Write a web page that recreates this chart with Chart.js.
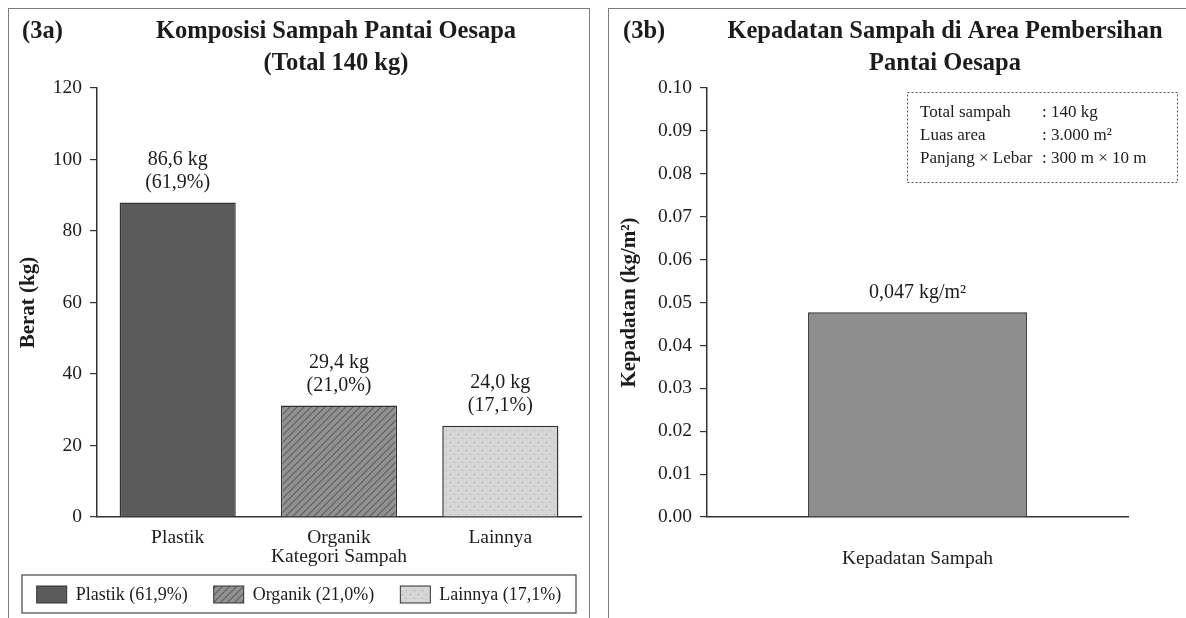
<!DOCTYPE html>
<html>
<head>
<meta charset="utf-8">
<script src="https://cdn.jsdelivr.net/npm/chart.js@4.4.1/dist/chart.umd.min.js"></script>
<style>
  body { margin: 0; background: #fff; width: 1186px; height: 618px; overflow: hidden; position: relative; }
  .panel { position: absolute; top: 8px; height: 640px; border: 1.6px solid #7c7c7c; box-sizing: border-box; }
  #panelA { left: 8px; width: 582px; }
  #panelB { left: 608px; width: 600px; }
  canvas { position: absolute; top: 9px; }
  #chartA { left: 9px; width: 579px; height: 609px; }
  #chartB { left: 610px; width: 576px; height: 609px; }
</style>
</head>
<body>
<div class="panel" id="panelA"></div>
<div class="panel" id="panelB"></div>
<canvas id="chartA" width="579" height="609"></canvas>
<canvas id="chartB" width="576" height="609"></canvas>
<script>
const FONT = '"Liberation Serif", "Times New Roman", serif';
const INK = '#1c1c1c';

// (3a) komposisi sampah
let categories = ['Plastik', 'Organik', 'Lainnya'];
let beratKg = [88.0, 31.2, 25.5];
let beratLabels = ['86,6 kg', '29,4 kg', '24,0 kg'];
let persenLabels = ['(61,9%)', '(21,0%)', '(17,1%)'];
let yTicksA = [0, 20, 40, 60, 80, 100, 120];

// (3b) kepadatan sampah
let densityCategory = ['Kepadatan Sampah'];
let densityValue = [0.0477];
let densityLabels = ['0,047 kg/m²'];
let yTicksB = [0.00, 0.01, 0.02, 0.03, 0.04, 0.05, 0.06, 0.07, 0.08, 0.09, 0.10];
let infoLabels = ['Total sampah', 'Luas area', 'Panjang × Lebar'];
let infoValues = [': 140 kg', ': 3.000 m²', ': 300 m × 10 m'];

// fills: solid, hatched, dotted
function hatchFill() {
  const c = document.createElement('canvas');
  c.width = 7; c.height = 7;
  const g = c.getContext('2d');
  g.fillStyle = '#929292'; g.fillRect(0, 0, 7, 7);
  g.strokeStyle = '#5f5f5f'; g.lineWidth = 1.2;
  g.beginPath();
  g.moveTo(0, 7); g.lineTo(7, 0);
  g.moveTo(-2, 2); g.lineTo(2, -2);
  g.moveTo(5, 9); g.lineTo(9, 5);
  g.stroke();
  return g.createPattern(c, 'repeat');
}
function dotFill() {
  const c = document.createElement('canvas');
  c.width = 8; c.height = 8;
  const g = c.getContext('2d');
  g.fillStyle = '#d5d5d5'; g.fillRect(0, 0, 8, 8);
  g.fillStyle = '#a6a6a6';
  g.fillRect(1, 1, 1, 1); g.fillRect(5, 5, 1, 1);
  return g.createPattern(c, 'repeat');
}
let fillsA = ['#5b5b5b', hatchFill(), dotFill()];

function barText(lines) {
  return {
    id: 'barText',
    afterDatasetsDraw(chart) {
      const ctx = chart.ctx;
      ctx.save();
      ctx.font = '20px ' + FONT;
      ctx.fillStyle = INK;
      ctx.textAlign = 'center';
      ctx.textBaseline = 'middle';
      chart.getDatasetMeta(0).data.forEach((bar, i) => {
        const l = lines[i];
        l.forEach((t, k) => ctx.fillText(t, bar.x, bar.y - 20 - (l.length - 1 - k) * 23));
      });
      ctx.restore();
    }
  };
}

function drawTitle(ctx, tag, lines, cx) {
  ctx.font = 'bold 24.5px ' + FONT;
  ctx.fillStyle = INK;
  ctx.textBaseline = 'middle';
  ctx.textAlign = 'left';
  ctx.fillText(tag, 13, 23);
  ctx.textAlign = 'center';
  lines.forEach((t, i) => ctx.fillText(t, cx, 23 + i * 32));
}

const decorA = {
  id: 'decorA',
  afterDraw(chart) {
    const ctx = chart.ctx;
    ctx.save();
    drawTitle(ctx, '(3a)', ['Komposisi Sampah Pantai Oesapa', '(Total 140 kg)'], 327);
    // legend
    const x0 = 13, y0 = 566, w = 554, h = 38;
    ctx.strokeStyle = '#444'; ctx.lineWidth = 1.2;
    ctx.strokeRect(x0, y0, w, h);
    ctx.font = '18px ' + FONT;
    const items = categories.map((c, i) => c + ' ' + persenLabels[i]);
    const sw = 30, gap = 9, between = 26;
    const total = items.reduce((s, t) => s + sw + gap + ctx.measureText(t).width, 0) + between * (items.length - 1);
    let x = x0 + (w - total) / 2;
    const cy = y0 + h / 2;
    ctx.textAlign = 'left'; ctx.textBaseline = 'middle';
    items.forEach((t, i) => {
      ctx.fillStyle = fillsA[i];
      ctx.fillRect(x, cy - 8, sw, 17);
      ctx.strokeStyle = '#333'; ctx.lineWidth = 1;
      ctx.strokeRect(x, cy - 8, sw, 17);
      ctx.fillStyle = INK;
      ctx.fillText(t, x + sw + gap, cy + 1);
      x += sw + gap + ctx.measureText(t).width + between;
    });
    ctx.restore();
  }
};

const decorB = {
  id: 'decorB',
  afterDraw(chart) {
    const ctx = chart.ctx;
    ctx.save();
    drawTitle(ctx, '(3b)', ['Kepadatan Sampah di Area Pembersihan', 'Pantai Oesapa'], 335);
    // info box
    ctx.strokeStyle = '#555'; ctx.lineWidth = 1;
    ctx.setLineDash([2, 2]);
    ctx.strokeRect(297.5, 83.5, 270, 90);
    ctx.setLineDash([]);
    ctx.font = '17px ' + FONT;
    ctx.fillStyle = INK;
    ctx.textAlign = 'left'; ctx.textBaseline = 'middle';
    infoLabels.forEach((t, i) => {
      ctx.fillText(t, 310, 104 + i * 23);
      ctx.fillText(infoValues[i], 432, 104 + i * 23);
    });
    ctx.restore();
  }
};

function yAxis(ticks, fmt, title, width) {
  return {
    min: ticks[0], max: ticks[ticks.length - 1],
    afterBuildTicks: s => { s.ticks = ticks.map(v => ({ value: v })); },
    grid: { drawOnChartArea: false, tickLength: 7, color: '#333', lineWidth: 1.2 },
    border: { color: '#333', width: 1.5 },
    ticks: { font: { family: FONT, size: 19.5 }, color: INK, padding: 8, callback: fmt },
    title: { display: true, text: title, color: INK, font: { family: FONT, size: 21, weight: 'bold' }, padding: { top: 7, bottom: 0 } },
    afterFit: s => { s.width = width; }
  };
}

new Chart(document.getElementById('chartA'), {
  type: 'bar',
  data: {
    labels: categories,
    datasets: [{ data: beratKg, backgroundColor: fillsA, borderColor: '#333', borderWidth: 1.5, categoryPercentage: 1, barPercentage: 0.72 }]
  },
  options: {
    responsive: false, animation: false,
    layout: { padding: { left: 0, top: 79, right: 7, bottom: 50 } },
    plugins: { legend: { display: false }, tooltip: { enabled: false } },
    scales: {
      x: {
        grid: { display: false, drawTicks: false },
        border: { color: '#333', width: 1.5 },
        ticks: { font: { family: FONT, size: 19.5 }, color: INK, padding: 9 },
        title: { display: true, text: 'Kategori Sampah', color: INK, font: { family: FONT, size: 19.5 }, padding: { top: 0, bottom: -1 } },
        afterFit: s => { s.height = 51; }
      },
      y: yAxis(yTicksA, v => String(v), 'Berat (kg)', 88)
    }
  },
  plugins: [barText(categories.map((_, i) => [beratLabels[i], persenLabels[i]])), decorA]
});

new Chart(document.getElementById('chartB'), {
  type: 'bar',
  data: {
    labels: densityCategory,
    datasets: [{ data: densityValue, backgroundColor: '#8e8e8e', borderColor: '#333', borderWidth: 1.5, categoryPercentage: 1, barPercentage: 0.52 }]
  },
  options: {
    responsive: false, animation: false,
    layout: { padding: { left: 0, top: 79, right: 58, bottom: 0 } },
    plugins: { legend: { display: false }, tooltip: { enabled: false } },
    scales: {
      x: {
        grid: { display: false, drawTicks: false },
        border: { color: '#333', width: 1.5 },
        ticks: { font: { family: FONT, size: 19.5 }, color: INK, padding: 30 },
        afterFit: s => { s.height = 101; }
      },
      y: yAxis(yTicksB, v => v.toFixed(2), 'Kepadatan (kg/m²)', 97)
    }
  },
  plugins: [barText(densityLabels.map(t => [t])), decorB]
});
</script>
</body>
</html>
